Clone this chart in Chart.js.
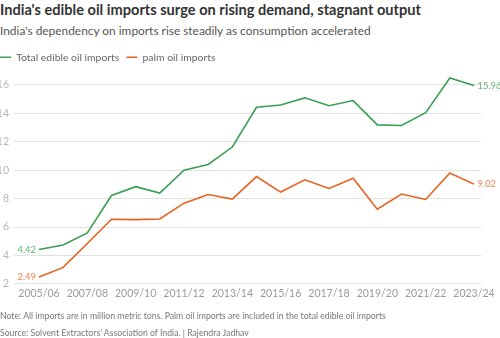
<!DOCTYPE html>
<html>
<head>
<meta charset="utf-8">
<script src="https://cdn.jsdelivr.net/npm/chart.js@4"></script>
<style>
  html, body { margin: 0; padding: 0; background: #fff; }
  body { width: 500px; height: 338px; position: relative; overflow: hidden; font-family: Lato, "Open Sans", sans-serif; }
  .t { position: absolute; left: 0; white-space: nowrap; line-height: 1; }
  #title { top: 3px; font-size: 14.6px; font-weight: 700; color: #333; }
  #sub { top: 24.5px; font-size: 11.9px; color: #555; }
  #note { top: 312px; font-size: 8.7px; color: #777; }
  #src { top: 329px; font-size: 8.7px; color: #777; }
  #wrap { position: absolute; left: 0; top: 0; width: 500px; height: 338px; }
</style>
</head>
<body>
<div class="t" id="title">India's edible oil imports surge on rising demand, stagnant output</div>
<div class="t" id="sub">India's dependency on imports rise steadily as consumption accelerated</div>
<div id="wrap"><canvas id="c" width="500" height="338"></canvas></div>
<div class="t" id="note">Note: All imports are in million metric tons. Palm oil imports are included in the total edible oil imports</div>
<div class="t" id="src">Source: Solvent Extractors' Association of India. | Rajendra Jadhav</div>
<script>
const categories = ["2005/06","2006/07","2007/08","2008/09","2009/10","2010/11","2011/12","2012/13","2013/14","2014/15","2015/16","2016/17","2017/18","2018/19","2019/20","2020/21","2021/22","2022/23","2023/24"];
const totalImports = [4.42, 4.74, 5.59, 8.22, 8.84, 8.39, 10.0, 10.40, 11.63, 14.43, 14.59, 15.09, 14.54, 14.90, 13.19, 13.15, 14.05, 16.49, 15.96];
const palmImports = [2.49, 3.16, 4.84, 6.55, 6.52, 6.57, 7.68, 8.29, 7.97, 9.55, 8.46, 9.32, 8.72, 9.43, 7.26, 8.32, 7.94, 9.81, 9.02];
const yTicks = [2, 4, 6, 8, 10, 12, 14, 16];
const xTickIdx = [0, 2, 4, 6, 8, 10, 12, 14, 16, 18];

const GREEN = '#3a9f52', ORANGE = '#e8611d';
const GREEN_L = '#62b575', ORANGE_L = '#ef8452';
const FONT = 'Lato, "Open Sans", sans-serif';

const toXY = arr => arr.map((v, i) => ({ x: i, y: v }));

const endLabels = {
  id: 'endLabels',
  afterDatasetsDraw(chart) {
    const ctx = chart.ctx;
    const xs = chart.scales.x, ys = chart.scales.y;
    ctx.save();
    ctx.font = '9.4px ' + FONT;
    ctx.textBaseline = 'middle';
    chart.data.datasets.forEach((ds, di) => {
      ctx.fillStyle = di === 0 ? GREEN_L : ORANGE_L;
      const first = ds.data[0], last = ds.data[ds.data.length - 1];
      ctx.textAlign = 'right';
      ctx.fillText(first.y.toFixed(2), xs.getPixelForValue(first.x) - 3, ys.getPixelForValue(first.y));
      ctx.textAlign = 'left';
      ctx.fillText(last.y.toFixed(2), xs.getPixelForValue(last.x) + 3.5, ys.getPixelForValue(last.y));
    });
    ctx.restore();
  }
};

const legendTweak = {
  id: 'legendTweak',
  beforeInit(chart) {
    const fit = chart.legend.fit;
    chart.legend.fit = function () { fit.call(this); this.height += 4; };
  },
  afterLayout(chart) {
    chart.legend.left -= 7;
  }
};

new Chart(document.getElementById('c'), {
  type: 'line',
  data: {
    datasets: [
      { label: 'Total edible oil imports', data: toXY(totalImports), borderColor: GREEN, backgroundColor: GREEN, borderWidth: 1.6, pointRadius: 0, tension: 0 },
      { label: 'palm oil imports', data: toXY(palmImports), borderColor: ORANGE, backgroundColor: ORANGE, borderWidth: 1.6, pointRadius: 0, tension: 0 }
    ]
  },
  options: {
    responsive: false,
    animation: false,
    layout: { padding: { top: 45, left: 0, right: 19, bottom: 35.5 } },
    plugins: {
      legend: {
        position: 'top', align: 'start',
        labels: { usePointStyle: true, pointStyle: 'line', pointStyleWidth: 11, boxHeight: 10, padding: 7, color: '#666', font: { family: FONT, size: 10.4 } }
      },
      tooltip: { enabled: false }
    },
    scales: {
      x: {
        type: 'linear', min: -1.034, max: 18.29,
        grid: { display: false, drawTicks: false },
        border: { display: false },
        afterBuildTicks: s => { s.ticks = xTickIdx.map(v => ({ value: v })); },
        ticks: { autoSkip: false, maxRotation: 0, padding: 3, color: '#9a9a9a', font: { family: FONT, size: 10.5 }, callback: v => categories[v] }
      },
      y: {
        min: 2, max: 16.6,
        afterBuildTicks: s => { s.ticks = yTicks.map(v => ({ value: v })); },
        afterFit: s => { s.width = 14; },
        grid: { color: '#e2e2e2', lineWidth: 1, drawTicks: false },
        border: { display: false },
        ticks: { padding: 5, color: '#b8b8b8', font: { family: FONT, size: 10.5 } }
      }
    }
  },
  plugins: [endLabels, legendTweak]
});
</script>
</body>
</html>
